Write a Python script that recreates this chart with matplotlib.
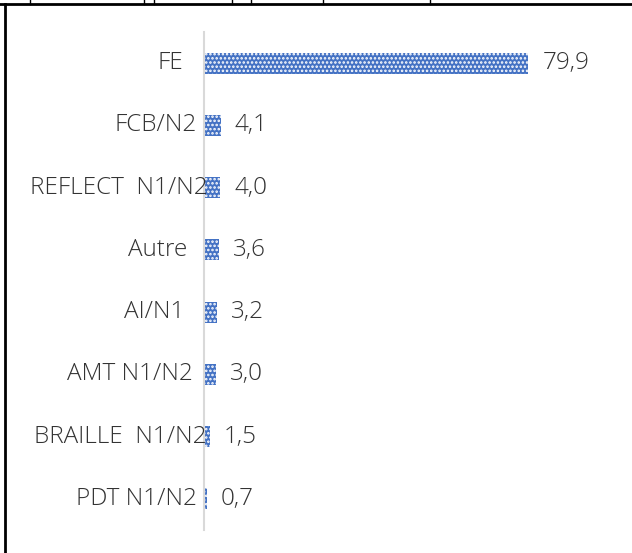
import matplotlib
matplotlib.use("Agg")
import matplotlib.pyplot as plt
from matplotlib.lines import Line2D
from matplotlib import font_manager

categories = ["FE", "FCB/N2", "REFLECT  N1/N2", "Autre", "AI/N1", "AMT N1/N2", "BRAILLE  N1/N2", "PDT N1/N2"]
values = [79.9, 4.1, 4.0, 3.6, 3.2, 3.0, 1.5, 0.7]
value_labels = ["79,9", "4,1", "4,0", "3,6", "3,2", "3,0", "1,5", "0,7"]

# layout: right end (pixels) of each category label
label_right_px = [183, 197, 208, 187, 184, 193, 206, 197]

plt.rcParams['font.family'] = ['Open Sans', 'DejaVu Sans']
plt.rcParams['hatch.linewidth'] = 1.2

W, H = 632, 553
fig = plt.figure(figsize=(W/100, H/100), dpi=100)
ax = fig.add_axes([204/W, 1-530/H, (610-204)/W, (530-32)/H])

y = list(range(len(categories)))
ax.barh(y, values, height=0.34, color='#4472C4', edgecolor='white', hatch='....', linewidth=0, zorder=2)
ax.set_ylim(len(categories)-0.5, -0.5)
ax.set_xlim(0, 100)
ax.set_yticks([])
ax.set_xticks([])
for s in ['top', 'right', 'bottom']:
    ax.spines[s].set_visible(False)
ax.spines['left'].set_color('#D9D9D9')
ax.spines['left'].set_linewidth(1.5)

tc = '#333333'
fw = 'light'
for yi, cat, rx in zip(y, categories, label_right_px):
    ax.annotate(cat, (0, yi), xycoords=('axes fraction', 'data'),
                xytext=(rx-204, 0), textcoords='offset pixels',
                va='center', ha='right', fontsize=17.5, color=tc, fontweight=fw, zorder=3)

for yi, v, lab in zip(y, values, value_labels):
    ax.annotate(lab, (v, yi), xytext=(14, 0), textcoords='offset pixels',
                va='center', ha='left', fontsize=17.5, color=tc, fontweight=fw)

# frame lines
fig.add_artist(Line2D([0, 1], [1-4/H, 1-4/H], transform=fig.transFigure, color='black', lw=2))
fig.add_artist(Line2D([5/W, 5/W], [0, 1-4/H], transform=fig.transFigure, color='black', lw=2))
for tx in [30, 144, 154, 232, 251, 323, 430]:
    fig.add_artist(Line2D([tx/W, tx/W], [1-4/H, 1], transform=fig.transFigure, color='black', lw=1))

fig.savefig("out.png", dpi=100)
